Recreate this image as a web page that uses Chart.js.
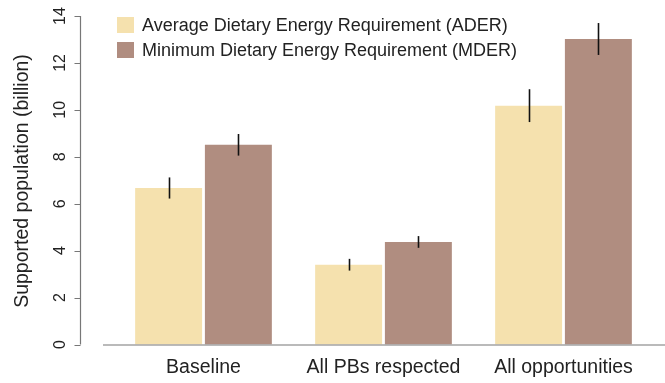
<!DOCTYPE html>
<html lang="en">
<head>
  <meta charset="UTF-8" />
  <title>Supported population</title>
  <script src="https://cdn.jsdelivr.net/npm/chart.js"></script>
  <style>
    body { margin: 0; background: #fff; }
    canvas { display: block; }
  </style>
</head>
<body>
  <canvas id="chart" width="665" height="383"></canvas>

  <script>
    const categories = ["Baseline", "All PBs respected", "All opportunities"];
    const seriesNames = ["Average Dietary Energy Requirement (ADER)", "Minimum Dietary Energy Requirement (MDER)"];
    const aderValues = [6.67, 3.40, 10.18];
    const aderErrors = [0.45, 0.25, 0.70];
    const mderValues = [8.51, 4.37, 13.02];
    const mderErrors = [0.46, 0.25, 0.68];
    const yTicks = [0, 2, 4, 6, 8, 10, 12, 14];

    const FONT = "'Liberation Sans', Arial, sans-serif";
    const colors = ["#f5e1ae", "#b08d80"];

    // axes, legend and error bars are drawn R-style by hand, using the chart's scales
    const rStyle = {
      id: "rStyle",
      afterDatasetsDraw(chart) {
        const ctx = chart.ctx;
        const y = chart.scales.y;

        // error bars
        ctx.save();
        ctx.strokeStyle = "#111";
        ctx.lineWidth = 1.6;
        const errs = [aderErrors, mderErrors];
        chart.data.datasets.forEach((ds, di) => {
          chart.getDatasetMeta(di).data.forEach((bar, i) => {
            const v = ds.data[i];
            const x = Math.round(bar.x) + 0.5;
            ctx.beginPath();
            ctx.moveTo(x, y.getPixelForValue(v - errs[di][i]));
            ctx.lineTo(x, y.getPixelForValue(v + errs[di][i]));
            ctx.stroke();
          });
        });
        ctx.restore();

        // x axis line
        ctx.save();
        ctx.strokeStyle = "#777";
        ctx.lineWidth = 1.2;
        const y0 = y.getPixelForValue(0) + 0.5;
        ctx.beginPath();
        ctx.moveTo(103, y0);
        ctx.lineTo(665, y0);
        ctx.stroke();

        // y axis line and ticks
        const ax = 80.5;
        ctx.beginPath();
        ctx.moveTo(ax, y.getPixelForValue(yTicks[0]));
        ctx.lineTo(ax, y.getPixelForValue(yTicks[yTicks.length - 1]));
        yTicks.forEach(t => {
          const py = Math.round(y.getPixelForValue(t)) + 0.5;
          ctx.moveTo(ax, py);
          ctx.lineTo(ax - 6, py);
        });
        ctx.stroke();

        ctx.fillStyle = "#222";
        ctx.font = "16px " + FONT;
        ctx.textAlign = "center";
        ctx.textBaseline = "middle";
        yTicks.forEach(t => {
          ctx.save();
          ctx.translate(61, y.getPixelForValue(t));
          ctx.rotate(-Math.PI / 2);
          ctx.fillText(String(t), 0, 0);
          ctx.restore();
        });

        ctx.font = "19.5px " + FONT;
        ctx.save();
        ctx.translate(23, 181);
        ctx.rotate(-Math.PI / 2);
        ctx.fillText("Supported population (billion)", 0, 0);
        ctx.restore();

        // legend
        ctx.font = "18px " + FONT;
        ctx.textAlign = "left";
        chart.data.datasets.forEach((ds, di) => {
          const top = 17 + di * 25;
          ctx.fillStyle = ds.backgroundColor;
          ctx.fillRect(117, top, 17, 16);
          ctx.fillStyle = "#222";
          ctx.fillText(ds.label, 142, top + 9);
        });
        ctx.restore();
      }
    };

    new Chart(document.getElementById("chart"), {
      type: "bar",
      data: {
        labels: categories,
        datasets: [
          { label: seriesNames[0], data: aderValues, backgroundColor: colors[0] },
          { label: seriesNames[1], data: mderValues, backgroundColor: colors[1] }
        ]
      },
      options: {
        responsive: false,
        animation: false,
        layout: { padding: { left: 113.5, right: 11.5, top: 16, bottom: -7 } },
        datasets: { bar: { categoryPercentage: 0.775, barPercentage: 0.96 } },
        plugins: { legend: { display: false }, tooltip: { enabled: false } },
        scales: {
          x: {
            grid: { display: false, drawTicks: false },
            border: { display: false },
            ticks: { color: "#222", font: { family: FONT, size: 19.5, lineHeight: 1 }, padding: 13, maxRotation: 0 }
          },
          y: {
            display: false,
            min: 0,
            max: 14
          }
        }
      },
      plugins: [rStyle]
    });
  </script>
</body>
</html>
